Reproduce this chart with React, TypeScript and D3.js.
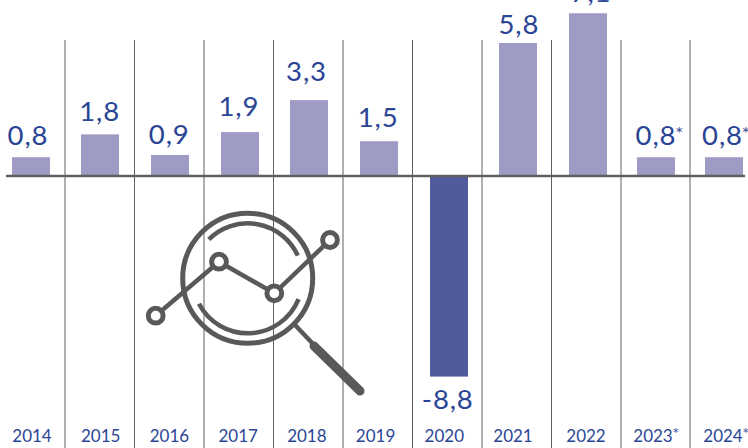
import React, { useRef, useEffect } from 'react';
import * as d3 from 'd3';

const years = ['2014', '2015', '2016', '2017', '2018', '2019', '2020', '2021', '2022', '2023', '2024'];
const growth = [0.8, 1.8, 0.9, 1.9, 3.3, 1.5, -8.8, 5.8, 7.1, 0.8, 0.8];
const valueLabels = ['0,8', '1,8', '0,9', '1,9', '3,3', '1,5', '-8,8', '5,8', '7,1', '0,8', '0,8'];
const forecast = ['2023', '2024'];
const trendIcon: [number, number][] = [[155.7, 315.7], [219, 261.7], [274.3, 293.3], [330, 240]];

const App = () => {
  const svgRef = useRef<SVGSVGElement>(null);

  useEffect(() => {
    const height = 448;
    const barWidth = 38;
    const textColor = '#2a4595';
    const iconColor = '#58595b';
    const labelFont = 'Lato, sans-serif';
    const starFont = '"DejaVu Sans", sans-serif';

    // value labels were placed by hand in the source, so nudge them per column
    const labelShift = [-3, -1, -1, -1, -3, -1, -1, 0.5, 3, 0, -1.5];
    const labelGap = [12, 13, 11, 16, 19, 14, 32, 9, 11, 12, 12];

    const svg = d3.select(svgRef.current);
    svg.selectAll('*').remove();

    // index scales are piecewise, the last columns of the source are a bit narrower
    const x = d3.scaleLinear().domain([0, 8, 10]).range([31, 588, 724]);
    const yearX = d3.scaleLinear().domain([0, 7, 8, 9, 10]).range([32, 513, 586, 653, 723]);
    const gridX = d3.scaleLinear().domain([0, 8, 9]).range([65, 621, 690]);
    const y = d3.scaleLinear().domain([0, 1]).range([175.5, 175.5 - 22.85]);

    const labelX = (i: number) => x(i) + labelShift[i];
    const labelY = (d: number, i: number) => (d < 0 ? y(d) + labelGap[i] : y(d) - labelGap[i]);
    const isForecast = (i: number) => forecast.includes(years[i]);

    // Vertical separators
    svg.append('g')
      .selectAll('line')
      .data(d3.range(years.length - 1))
      .join('line')
      .attr('x1', d => gridX(d))
      .attr('x2', d => gridX(d))
      .attr('y1', 40)
      .attr('y2', height)
      .attr('stroke', '#606060')
      .attr('stroke-width', 1);

    // Bars
    svg.append('g')
      .selectAll('rect')
      .data(growth)
      .join('rect')
      .attr('x', (d, i) => Math.round(x(i) - barWidth / 2 - 0.15))
      .attr('y', d => y(Math.max(d, 0)))
      .attr('width', barWidth)
      .attr('height', d => Math.abs(y(d) - y(0)))
      .attr('fill', d => (d < 0 ? '#4f5b9d' : '#9e9cc5'));

    // Zero line
    svg.append('line')
      .attr('x1', 6)
      .attr('x2', 745)
      .attr('y1', y(0) + 0.5)
      .attr('y2', y(0) + 0.5)
      .attr('stroke', '#606060')
      .attr('stroke-width', 2.4);

    // Value labels
    svg.append('g')
      .selectAll('text')
      .data(growth)
      .join('text')
      .attr('x', (d, i) => labelX(i))
      .attr('y', (d, i) => labelY(d, i))
      .attr('text-anchor', 'middle')
      .attr('font-family', labelFont)
      .attr('font-size', 27.5)
      .attr('letter-spacing', 0.9)
      .attr('fill', textColor)
      .text((d, i) => valueLabels[i]);

    svg.append('g')
      .selectAll('text')
      .data(d3.range(years.length).filter(isForecast))
      .join('text')
      .attr('x', i => labelX(i) + 20)
      .attr('y', i => labelY(growth[i], i) - 9.5)
      .attr('font-family', starFont)
      .attr('font-size', 13)
      .attr('fill', textColor)
      .text('*');

    // Year labels
    svg.append('g')
      .selectAll('text')
      .data(years)
      .join('text')
      .attr('x', (d, i) => yearX(i))
      .attr('y', 442)
      .attr('text-anchor', 'middle')
      .attr('font-family', labelFont)
      .attr('font-size', 17)
      .attr('fill', textColor)
      .text(d => d);

    svg.append('g')
      .selectAll('text')
      .data(d3.range(years.length).filter(isForecast))
      .join('text')
      .attr('x', i => yearX(i) + 20)
      .attr('y', 436)
      .attr('font-family', starFont)
      .attr('font-size', 11)
      .attr('fill', textColor)
      .text('*');

    // Magnifier icon
    const icon = svg.append('g')
      .attr('fill', 'none')
      .attr('stroke', iconColor)
      .attr('stroke-linecap', 'round');
    const cx = 247.7;
    const cy = 278.3;

    icon.append('circle')
      .attr('cx', cx)
      .attr('cy', cy)
      .attr('r', 65)
      .attr('stroke-width', 5);

    const lens = d3.arc();
    [[-0.785, 1.145], [1.96, 4.23]].forEach(([startAngle, endAngle]) => {
      icon.append('path')
        .attr('transform', `translate(${cx},${cy})`)
        .attr('d', lens({ innerRadius: 55, outerRadius: 55, startAngle, endAngle }))
        .attr('stroke-width', 4.5);
    });

    icon.append('path')
      .attr('d', d3.line()(trendIcon))
      .attr('stroke-width', 4.5);

    icon.selectAll('circle.node')
      .data(trendIcon)
      .join('circle')
      .attr('class', 'node')
      .attr('cx', d => d[0])
      .attr('cy', d => d[1])
      .attr('r', 7.4)
      .attr('fill', '#fff')
      .attr('stroke-width', 5);

    icon.append('line')
      .attr('x1', 296)
      .attr('y1', 326)
      .attr('x2', 314)
      .attr('y2', 345)
      .attr('stroke-width', 4.5);
    icon.append('line')
      .attr('x1', 314)
      .attr('y1', 346)
      .attr('x2', 360)
      .attr('y2', 391)
      .attr('stroke-width', 9);
  }, []);

  return <svg ref={svgRef} width={748} height={448} style={{ position: 'absolute', left: 0, top: 0 }}></svg>;
};

export default App;
